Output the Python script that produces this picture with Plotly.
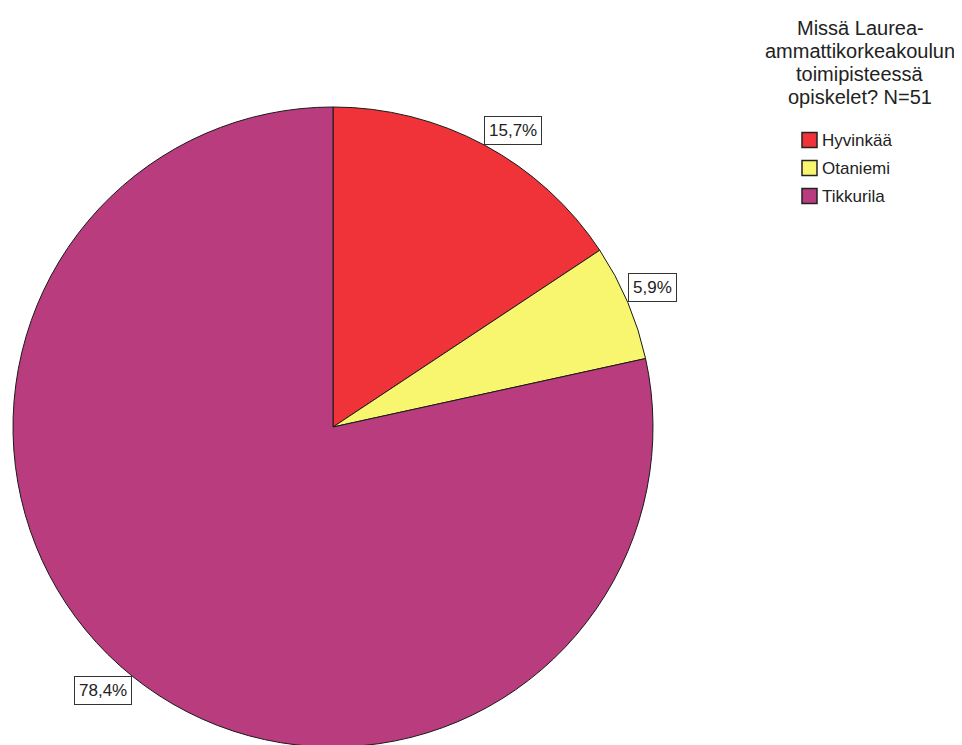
import math
import plotly.graph_objects as go

# ---- data ----
categories = ["Hyvinkää", "Otaniemi", "Tikkurila"]
counts = [8, 3, 40]
colors = ["#F03338", "#F8F66E", "#B83C7E"]
title_lines = ["Missä Laurea-", "ammattikorkeakoulun", "toimipisteessä", "opiskelet? N=51"]

W, H = 962, 745
OFF = 8  # page body margin
FONT = "Liberation Sans, Arial, sans-serif"


def px(x):
    return (x - OFF) / W


def py(y):
    return 1 - (y - OFF) / H


# pie geometry (screen pixels)
R = 320
CX, CY = 333, 107 + R

fig = go.Figure()
fig.add_trace(go.Pie(
    labels=categories,
    values=counts,
    marker=dict(colors=colors, line=dict(color="#1a1a1a", width=1)),
    sort=False,
    direction="clockwise",
    rotation=0,
    textinfo="none",
    hoverinfo="label+percent",
    showlegend=False,
    domain=dict(x=[px(CX - R), px(CX + R)], y=[py(CY + R), py(CY - R)]),
))

total = sum(counts)
annotations = []
cum = 0
for lab, v in zip(categories, counts):
    frac = v / total
    mid = (cum + frac / 2) * 2 * math.pi
    cum += frac
    s, c = math.sin(mid), math.cos(mid)
    # box corner nearest the pie sits on the rim at the slice's mid-angle
    x = CX + R * s
    y = CY - R * c
    txt = f"{frac * 100:.1f}".replace(".", ",") + "%"
    annotations.append(dict(
        x=px(x), y=py(y), xref="paper", yref="paper",
        text=txt, showarrow=False,
        xanchor="left" if s >= 0 else "right",
        yanchor="bottom" if c >= 0 else "top",
        font=dict(family=FONT, size=17, color="#222"),
        bgcolor="white", bordercolor="#333", borderwidth=1, borderpad=4,
    ))

# legend title (one annotation per line for tight spacing)
TX, TY0, TSP = 860, 28, 23
for i, line in enumerate(title_lines):
    annotations.append(dict(
        x=px(TX), y=py(TY0 + i * TSP), xref="paper", yref="paper",
        text=line, showarrow=False, xanchor="center", yanchor="middle",
        font=dict(family=FONT, size=20, color="#222"),
    ))

# manual legend
shapes = []
LX, LY0, LSP, SQ = 802, 140, 28, 15
for i, (lab, col) in enumerate(zip(categories, colors)):
    yc = LY0 + i * LSP
    shapes.append(dict(
        type="rect", xref="paper", yref="paper",
        x0=px(LX), x1=px(LX + SQ),
        y0=py(yc + SQ / 2), y1=py(yc - SQ / 2),
        fillcolor=col, line=dict(color="#222", width=1.5),
    ))
    annotations.append(dict(
        x=px(LX + SQ + 3), y=py(yc), xref="paper", yref="paper",
        text=lab, showarrow=False, xanchor="left", yanchor="middle",
        font=dict(family=FONT, size=17, color="#222"),
    ))

fig.update_layout(
    width=W, height=H,
    margin=dict(l=0, r=0, t=0, b=0),
    paper_bgcolor="white", plot_bgcolor="white",
    annotations=annotations, shapes=shapes,
    showlegend=False,
)

fig.write_html("out.html")
